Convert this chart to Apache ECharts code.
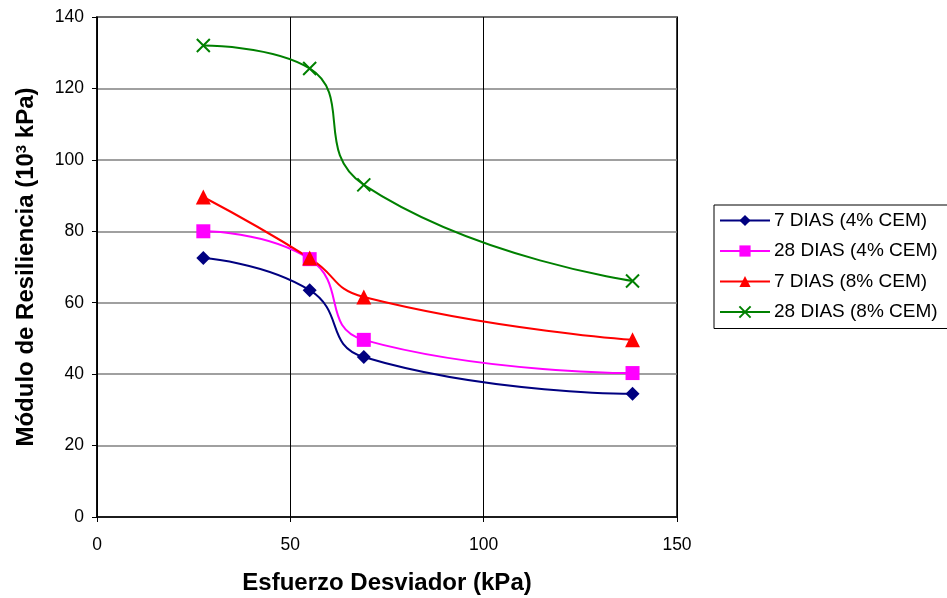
<!DOCTYPE html>
<html>
<head>
<meta charset="utf-8">
<script src="https://cdn.jsdelivr.net/npm/echarts@6/dist/echarts.min.js"></script>
<style>
  html, body { margin: 0; padding: 0; background: #fff; }
  #chart { width: 947px; height: 598px; }
</style>
</head>
<body>
<div id="chart"></div>
<script>
// Datos
var esfuerzo = [27.5, 55, 69, 138.5];
var dias7cem4 = [72.5, 63.5, 44.8, 34.5];
var dias28cem4 = [80, 72.2, 49.6, 40.3];
var dias7cem8 = [89.6, 72.5, 61.6, 49.6];
var dias28cem8 = [132, 125.6, 93, 66.1];
var nombres = ['7 DIAS (4% CEM)', '28 DIAS (4% CEM)', '7 DIAS (8% CEM)', '28 DIAS (8% CEM)'];

function pares(ys) {
    return esfuerzo.map(function (x, i) { return [x, ys[i]]; });
}

var font = 'Liberation Sans, Arial, sans-serif';
var cruz = 'path://M0,0L10,10M10,0L0,10';

var chart = echarts.init(document.getElementById('chart'));
chart.setOption({
    animation: false,
    textStyle: { fontFamily: font },
    grid: {
        left: 97, right: 270, top: 17, bottom: 81,
        outerBoundsMode: 'none', containLabel: false,
        show: true, borderColor: '#000', borderWidth: 1.5
    },
    legend: {
        orient: 'vertical',
        left: 714,
        top: 205,
        padding: [6, 12, 7, 5],
        itemGap: 11.5,
        itemWidth: 50,
        itemHeight: 14,
        borderColor: '#000',
        borderWidth: 1,
        textStyle: { fontSize: 19, color: '#000', fontFamily: font, padding: [0, 0, 0, -1] },
        data: nombres
    },
    xAxis: {
        type: 'value',
        min: 0, max: 150, interval: 50,
        name: 'Esfuerzo Desviador (kPa)',
        nameLocation: 'middle',
        nameGap: 54,
        nameTextStyle: { fontSize: 24, fontWeight: 'bold', color: '#000' },
        axisLine: { onZero: false, lineStyle: { color: '#000', width: 1.5 } },
        axisTick: { show: true, inside: false, length: 5, lineStyle: { color: '#000' } },
        axisLabel: { fontSize: 17.5, color: '#000', margin: 19 },
        splitLine: { show: true, lineStyle: { color: '#000', width: 1 } }
    },
    yAxis: {
        type: 'value',
        min: 0, max: 140, interval: 20,
        name: 'Módulo de Resiliencia (10{sup|3} kPa)',
        nameLocation: 'middle',
        nameGap: 58,
        nameRotate: 90,
        nameTextStyle: {
            fontSize: 24, fontWeight: 'bold', color: '#000',
            rich: {
                sup: { fontSize: 15, fontWeight: 'bold', color: '#000', verticalAlign: 'top', padding: [0, 0, 10, 0] }
            }
        },
        axisLine: { onZero: false, lineStyle: { color: '#000', width: 1.5 } },
        axisTick: { show: true, inside: false, length: 5, lineStyle: { color: '#000' } },
        axisLabel: { fontSize: 17.5, color: '#000', margin: 13 },
        splitLine: { show: true, lineStyle: { color: '#808080', width: 1.5 } }
    },
    series: [
        {
            name: nombres[0], type: 'line', smooth: 0.5,
            data: pares(dias7cem4),
            symbol: 'diamond', symbolSize: 14,
            itemStyle: { color: '#000080' },
            lineStyle: { color: '#000080', width: 2 }
        },
        {
            name: nombres[1], type: 'line', smooth: 0.5,
            data: pares(dias28cem4),
            symbol: 'rect', symbolSize: 14,
            itemStyle: { color: '#ff00ff' },
            lineStyle: { color: '#ff00ff', width: 2 }
        },
        {
            name: nombres[2], type: 'line', smooth: 0.5,
            data: pares(dias7cem8),
            symbol: 'triangle', symbolSize: 15,
            itemStyle: { color: '#ff0000' },
            lineStyle: { color: '#ff0000', width: 2 }
        },
        {
            name: nombres[3], type: 'line', smooth: 0.5,
            data: pares(dias28cem8),
            symbol: cruz, symbolSize: 13,
            itemStyle: { color: 'transparent', borderColor: '#008000', borderWidth: 2 },
            lineStyle: { color: '#008000', width: 2 }
        }
    ]
});
</script>
</body>
</html>
